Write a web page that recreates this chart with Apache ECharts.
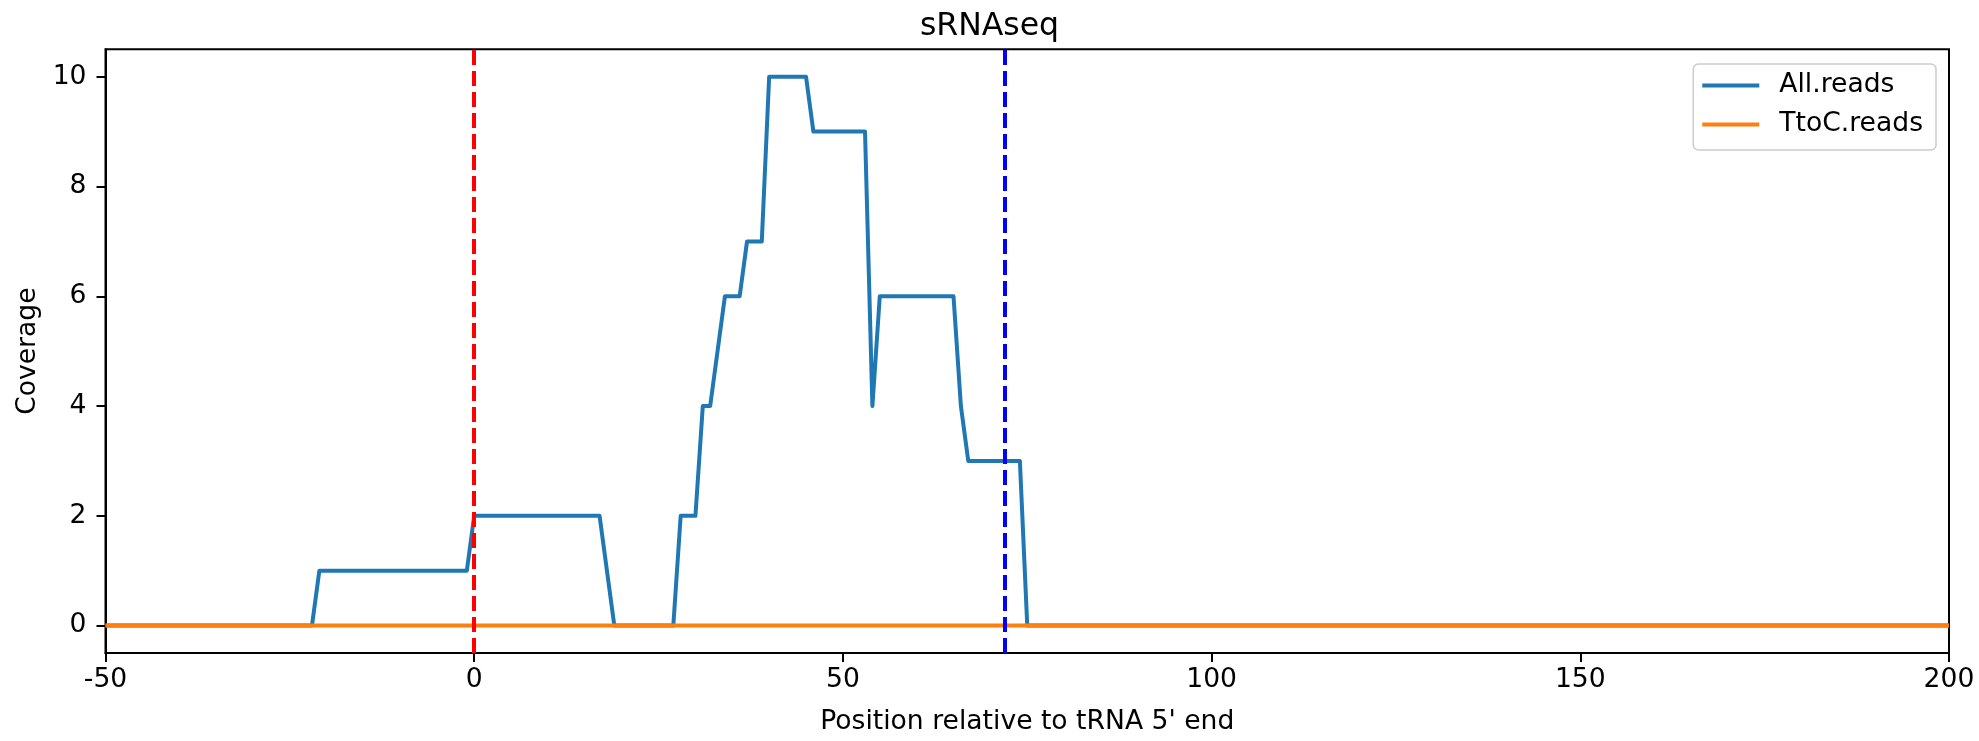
<!DOCTYPE html>
<html>
<head>
<meta charset="utf-8">
<title>sRNAseq</title>
<script src="https://cdn.jsdelivr.net/npm/echarts@6/dist/echarts.min.js"></script>
<style>
  html, body { margin: 0; padding: 0; background: #fff; }
  #chart { width: 1979px; height: 741px; }
</style>
</head>
<body>
<div id="chart"></div>
<script>
// coverage vertices (position relative to tRNA 5' end, coverage)
var allPos   = [-50, -22, -21, -1, 0, 17, 19, 27, 28, 30, 31, 32, 34, 36, 37, 39, 40, 45, 46, 53, 54, 55, 65, 66, 67, 74, 75, 200];
var allReads = [  0,   0,   1,  1, 2,  2,  0,  0,  2,  2,  4,  4,  6,  6,  7,  7, 10, 10,  9,  9,  4,  6,  6,  4,  3,  3,  0,   0];
var ttocPos   = [-50, 200];
var ttocReads = [0, 0];

var xTicks = [-50, 0, 50, 100, 150, 200];
var yTicks = [0, 2, 4, 6, 8, 10];
var startLine = 0;   // tRNA 5' end
var endLine = 72;    // tRNA 3' end

var myChart = echarts.init(document.getElementById('chart'));

function pairs(xs, ys) {
    var out = [];
    for (var i = 0; i < xs.length; i++) {
        out.push([xs[i], ys[i]]);
    }
    return out;
}

var font = 'DejaVu Sans';
var fs = 26.6;

var option = {
    animation: false,
    backgroundColor: '#fff',
    textStyle: {fontFamily: font},
    title: {
        text: 'sRNAseq',
        left: 'center',
        top: 6,
        textStyle: {fontFamily: font, fontSize: 31.5, fontWeight: 'normal', color: '#000'}
    },
    legend: {
        right: 43,
        top: 64,
        orient: 'vertical',
        icon: 'rect',
        itemWidth: 57,
        itemHeight: 4,
        itemGap: 12,
        padding: [8, 13, 12, 9],
        borderColor: '#cccccc',
        borderWidth: 1.5,
        borderRadius: 5,
        backgroundColor: 'rgba(255,255,255,0.8)',
        textStyle: {fontFamily: font, fontSize: fs, color: '#000', padding: [0, 0, 0, 15]},
        data: ['All.reads', 'TtoC.reads']
    },
    grid: {
        left: 105.5,
        right: 30,
        top: 49.3,
        bottom: 86.3,
        show: true,
        borderColor: '#000',
        borderWidth: 2
    },
    xAxis: {
        type: 'value',
        min: -50,
        max: 200,
        interval: 50,
        name: "Position relative to tRNA 5' end",
        nameLocation: 'middle',
        nameGap: 56,
        nameTextStyle: {fontFamily: font, fontSize: fs, color: '#000'},
        axisLine: {show: true, onZero: false, lineStyle: {color: '#000', width: 2}},
        axisTick: {show: true, length: 9, lineStyle: {color: '#000', width: 2}},
        axisLabel: {
            margin: 14,
            fontFamily: font,
            fontSize: fs,
            color: '#000',
            customValues: xTicks
        },
        splitLine: {show: false}
    },
    yAxis: {
        type: 'value',
        min: -0.5,
        max: 10.5,
        name: 'Coverage',
        nameLocation: 'middle',
        nameGap: 62,
        nameTextStyle: {fontFamily: font, fontSize: fs, color: '#000'},
        axisLine: {show: true, onZero: false, lineStyle: {color: '#000', width: 2}},
        axisTick: {show: true, length: 9, lineStyle: {color: '#000', width: 2}, customValues: yTicks},
        axisLabel: {
            margin: 19,
            fontFamily: font,
            fontSize: fs,
            color: '#000',
            customValues: yTicks
        },
        splitLine: {show: false}
    },
    series: [
        {
            name: 'All.reads',
            type: 'line',
            showSymbol: false,
            symbol: 'none',
            color: '#1f77b4',
            lineStyle: {width: 4, color: '#1f77b4', join: 'round'},
            data: pairs(allPos, allReads)
        },
        {
            name: 'TtoC.reads',
            type: 'line',
            showSymbol: false,
            symbol: 'none',
            color: '#ff7f0e',
            lineStyle: {width: 4, color: '#ff7f0e'},
            data: pairs(ttocPos, ttocReads),
            markLine: {
                silent: true,
                symbol: 'none',
                label: {show: false},
                data: [
                    {xAxis: startLine, lineStyle: {color: '#ff0000', type: [15, 6], width: 4}},
                    {xAxis: endLine, lineStyle: {color: '#0000ff', type: [15, 6], width: 4}}
                ]
            }
        }
    ]
};

myChart.setOption(option);
</script>
</body>
</html>
